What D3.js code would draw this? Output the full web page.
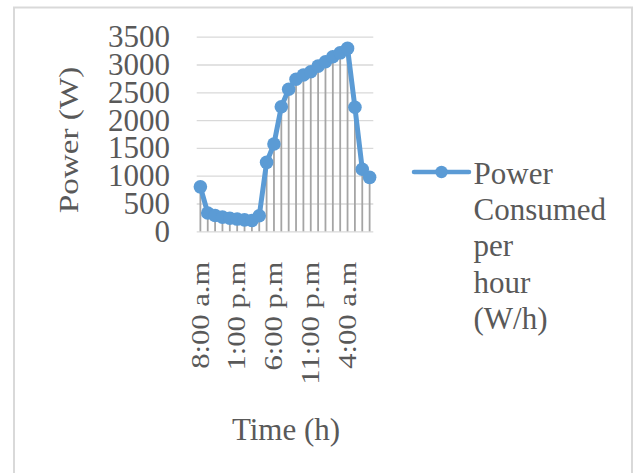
<!DOCTYPE html>
<html>
<head>
<meta charset="utf-8">
<script src="https://cdn.jsdelivr.net/npm/d3@7"></script>
<style>
  html, body { margin: 0; padding: 0; background: #fff; }
  svg { display: block; }
  text { font-family: "Liberation Serif", "Times New Roman", serif; fill: #595959; }
</style>
</head>
<body>
<svg id="chart" width="635" height="473"></svg>
<script>
// Hourly readings, 8:00 a.m through 7:00 a.m the next day
const hours = [
  "8:00 a.m", "9:00 a.m", "10:00 a.m", "11:00 a.m", "12:00 p.m", "1:00 p.m",
  "2:00 p.m", "3:00 p.m", "4:00 p.m", "5:00 p.m", "6:00 p.m", "7:00 p.m",
  "8:00 p.m", "9:00 p.m", "10:00 p.m", "11:00 p.m", "12:00 a.m", "1:00 a.m",
  "2:00 a.m", "3:00 a.m", "4:00 a.m", "5:00 a.m", "6:00 a.m", "7:00 a.m"
];
const powerConsumed = [
  800, 330, 285, 255, 235, 220, 205, 195, 280, 1240, 1570, 2240,
  2555, 2735, 2810, 2870, 2970, 3050, 3140, 3210, 3290, 2230, 1115, 970
];
const yTicks = [0, 500, 1000, 1500, 2000, 2500, 3000, 3500];
const xTickLabels = ["8:00 a.m", "1:00 p.m", "6:00 p.m", "11:00 p.m", "4:00 a.m"];
const seriesName = ["Power", "Consumed", "per", "hour", "(W/h)"];

const svg = d3.select("#chart");
const plot = { left: 196.7, right: 373.3, top: 36.7, bottom: 231.3 };
const blue = "#5b9bd5";

// chart area border
svg.append("rect")
  .attr("x", 14).attr("y", 7.5)
  .attr("width", 618).attr("height", 520)
  .attr("fill", "#fff")
  .attr("stroke", "#d9d9d9").attr("stroke-width", 2);

const x = d3.scaleBand().domain(hours).range([plot.left, plot.right]);
const y = d3.scaleLinear().domain([0, 3500]).range([plot.bottom, plot.top]);
const cx = d => x(d) + x.bandwidth() / 2;

// horizontal gridlines
const grid = svg.append("g")
  .attr("transform", `translate(${plot.left},0)`)
  .call(d3.axisLeft(y).tickValues(yTicks).tickSize(-(plot.right - plot.left)).tickFormat(""));
grid.select(".domain").remove();
grid.selectAll(".tick line").attr("stroke", "#d9d9d9").attr("stroke-width", 1.3);

// value axis labels
const yAxis = svg.append("g")
  .attr("transform", `translate(${plot.left},0)`)
  .call(d3.axisLeft(y).tickValues(yTicks).tickSize(0).tickPadding(26.7).tickFormat(d3.format("d")));
yAxis.select(".domain").remove();
yAxis.selectAll(".tick text")
  .attr("font-size", 31)
  .attr("fill", "#595959")
  .attr("font-family", "Liberation Serif, serif");

// category axis labels (every fifth hour)
const xAxis = svg.append("g")
  .attr("transform", `translate(0,${plot.bottom})`)
  .call(d3.axisBottom(x).tickValues(xTickLabels).tickSize(0));
xAxis.select(".domain").remove();
xAxis.selectAll(".tick")
  .attr("transform", d => `translate(${cx(d)},0)`);
xAxis.selectAll(".tick text")
  .attr("x", 0).attr("y", 0).attr("dy", 0)
  .attr("text-anchor", "end")
  .attr("font-size", 24.7)
  .attr("fill", "#595959")
  .attr("font-family", "Liberation Serif, serif")
  .attr("transform", "translate(8.3,30.4) rotate(-90) scale(1.24,1)");

// drop lines from each reading to the baseline
svg.append("g").selectAll("line")
  .data(hours)
  .join("line")
  .attr("x1", d => cx(d)).attr("x2", d => cx(d))
  .attr("y1", (d, i) => y(powerConsumed[i]))
  .attr("y2", y(0))
  .attr("stroke", "#a5a5a5")
  .attr("stroke-width", 1.8);

// series line and markers
const line = d3.line()
  .x((d, i) => cx(hours[i]))
  .y(d => y(d));
svg.append("path")
  .datum(powerConsumed)
  .attr("d", line)
  .attr("fill", "none")
  .attr("stroke", blue)
  .attr("stroke-width", 5)
  .attr("stroke-linejoin", "round")
  .attr("stroke-linecap", "round");
svg.append("g").selectAll("circle")
  .data(powerConsumed)
  .join("circle")
  .attr("cx", (d, i) => cx(hours[i]))
  .attr("cy", d => y(d))
  .attr("r", 6.8)
  .attr("fill", blue);

// axis titles
svg.append("text")
  .attr("transform", "translate(78.3,140) rotate(-90) scale(1.2,1)")
  .attr("text-anchor", "middle")
  .attr("font-size", 27.7)
  .text("Power (W)");
svg.append("text")
  .attr("x", 286).attr("y", 440)
  .attr("text-anchor", "middle")
  .attr("font-size", 31)
  .text("Time (h)");

// legend
const legend = svg.append("g");
legend.append("line")
  .attr("x1", 414).attr("x2", 469)
  .attr("y1", 172).attr("y2", 172)
  .attr("stroke", blue).attr("stroke-width", 4.5)
  .attr("stroke-linecap", "round");
legend.append("circle")
  .attr("cx", 441.5).attr("cy", 172).attr("r", 6.2)
  .attr("fill", blue);
legend.append("g").selectAll("text")
  .data(seriesName)
  .join("text")
  .attr("x", 473.5)
  .attr("y", (d, i) => 183.5 + i * 36.4)
  .attr("font-size", 31)
  .text(d => d);
</script>
</body>
</html>
